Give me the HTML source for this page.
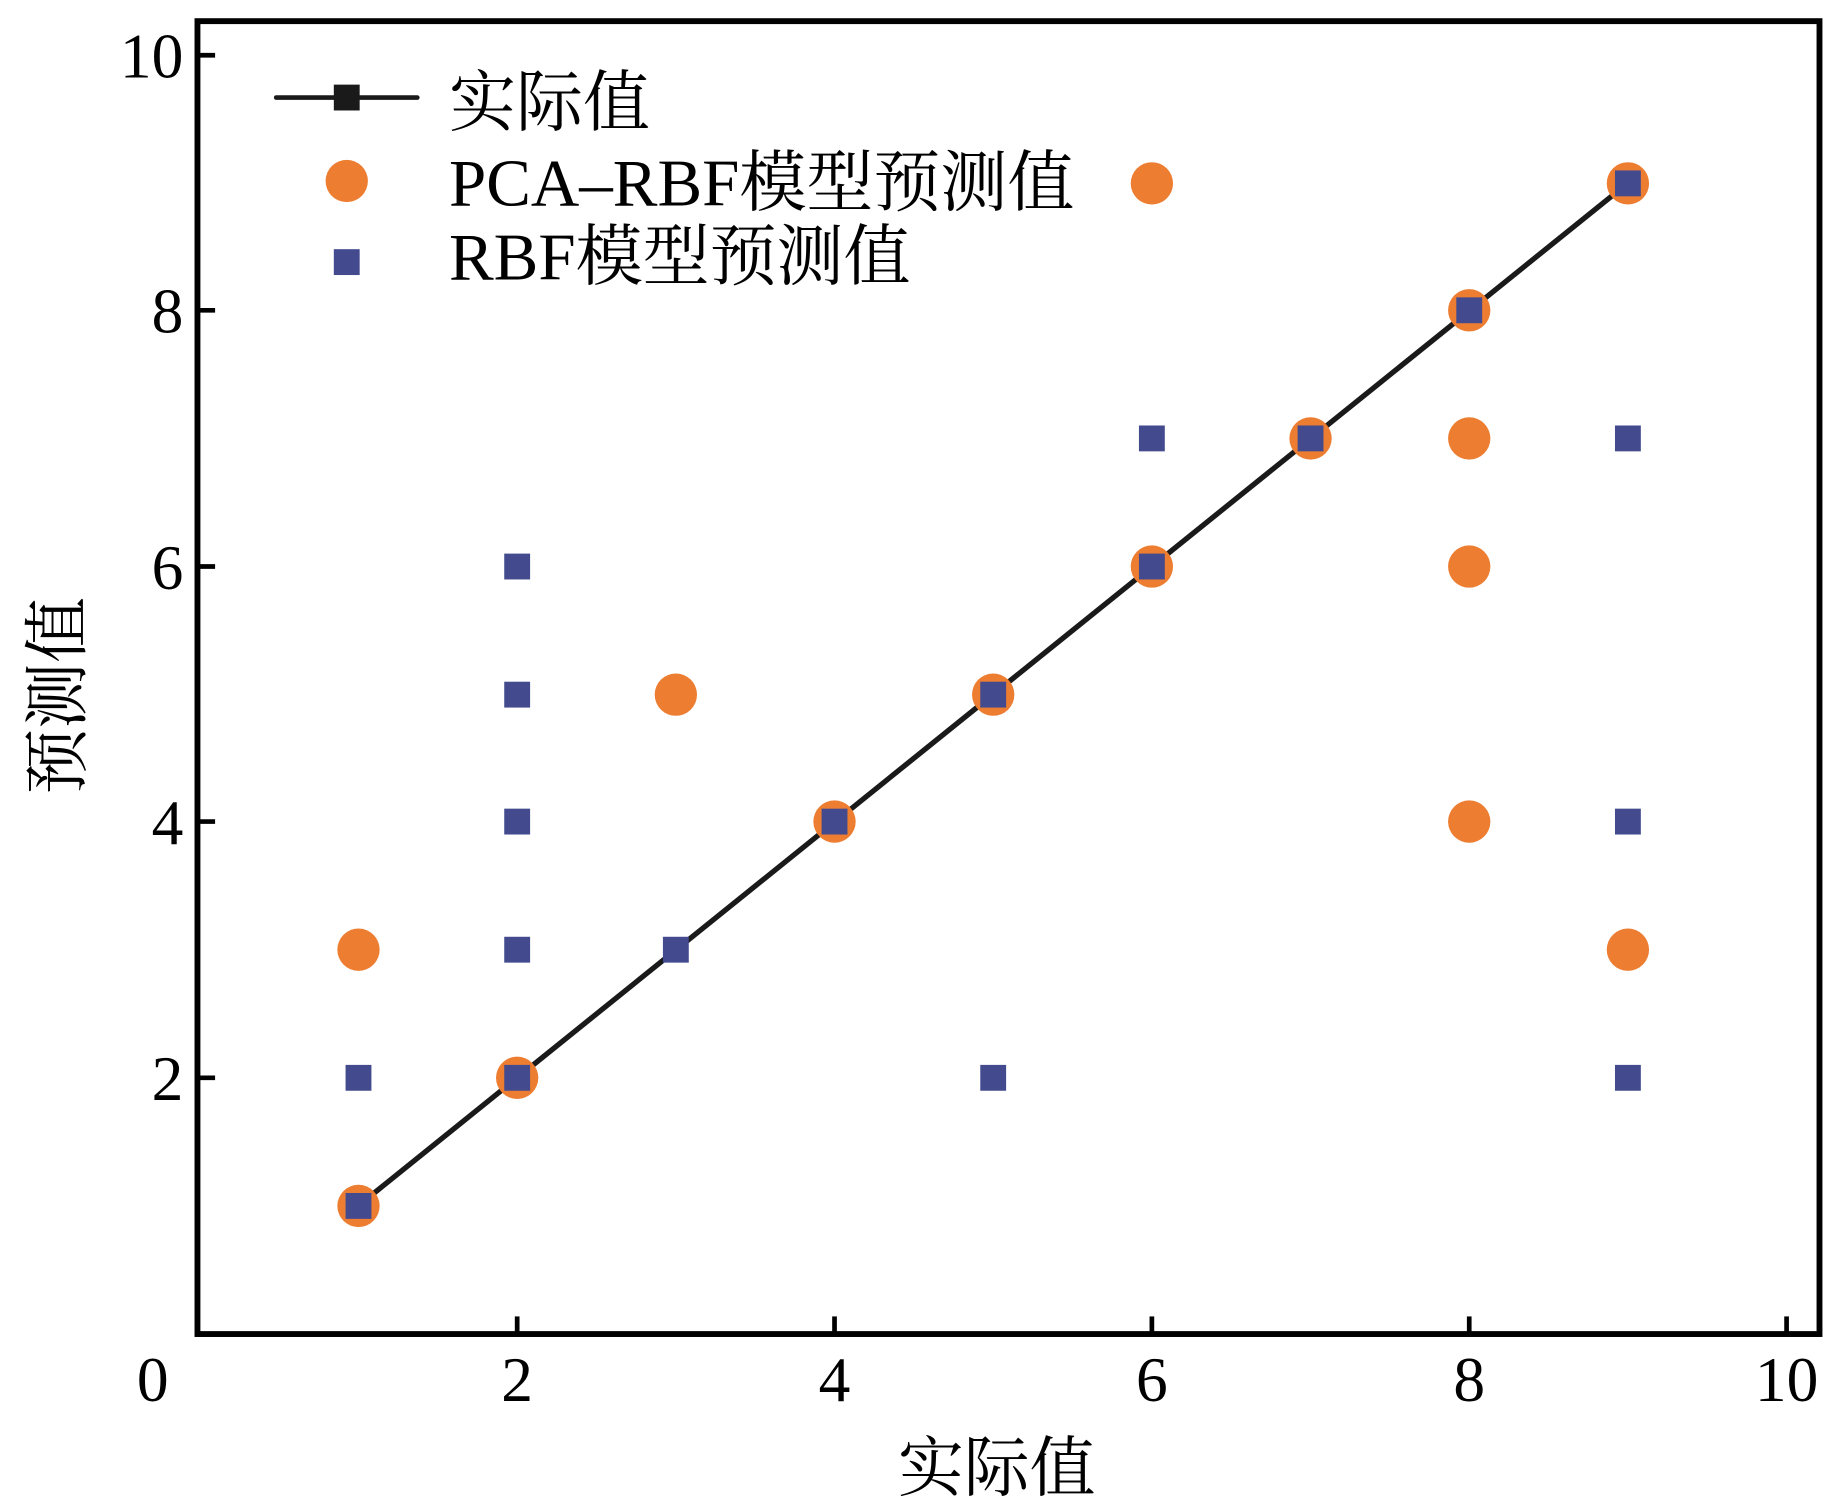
<!DOCTYPE html>
<html><head><meta charset="utf-8"><style>html,body{margin:0;padding:0;background:#fff}svg{display:block}</style></head>
<body>
<svg width="1843" height="1512" viewBox="0 0 1568 1286.4" preserveAspectRatio="none" xmlns="http://www.w3.org/2000/svg" font-family="'Liberation Serif','Noto Serif CJK SC',serif">
<rect x="0" y="0" width="1568" height="1287" fill="#fff"/>
<rect x="168" y="18" width="1380" height="1117" fill="none" stroke="#000" stroke-width="5"/>
<g stroke="#000" stroke-width="4">
<line x1="440" y1="1135" x2="440" y2="1120"/><line x1="710" y1="1135" x2="710" y2="1120"/>
<line x1="980" y1="1135" x2="980" y2="1120"/><line x1="1250" y1="1135" x2="1250" y2="1120"/>
<line x1="1520" y1="1135" x2="1520" y2="1120"/>
<line x1="168" y1="917" x2="183" y2="917"/><line x1="168" y1="699" x2="183" y2="699"/>
<line x1="168" y1="482" x2="183" y2="482"/><line x1="168" y1="264" x2="183" y2="264"/>
<line x1="168" y1="47" x2="183" y2="47"/>
</g>
<g font-size="54" fill="#000" text-anchor="middle">
<text x="130" y="1192">0</text><text x="440" y="1192">2</text><text x="710" y="1192">4</text>
<text x="980" y="1192">6</text><text x="1250" y="1192">8</text><text x="1520" y="1192">10</text>
</g>
<g font-size="54" fill="#000" text-anchor="end">
<text x="156" y="936">2</text><text x="156" y="718">4</text><text x="156" y="501">6</text>
<text x="156" y="283">8</text><text x="156" y="66">10</text>
</g>
<text x="848" y="1268" font-size="56" text-anchor="middle">实际值</text>
<text transform="translate(68,592) rotate(-90)" font-size="56" text-anchor="middle">预测值</text>
<line x1="305" y1="1025.75" x2="1385" y2="155.75" stroke="#1a1a1a" stroke-width="4.5"/>
<g fill="#ED7D31">
<circle cx="305" cy="1026" r="18"/><circle cx="305" cy="808" r="18"/><circle cx="440" cy="917" r="18"/>
<circle cx="575" cy="591" r="18"/><circle cx="710" cy="699" r="18"/><circle cx="845" cy="591" r="18"/>
<circle cx="980" cy="156" r="18"/><circle cx="980" cy="482" r="18"/><circle cx="1115" cy="373" r="18"/>
<circle cx="1250" cy="264" r="18"/><circle cx="1250" cy="373" r="18"/><circle cx="1250" cy="482" r="18"/>
<circle cx="1250" cy="699" r="18"/><circle cx="1385" cy="156" r="18"/><circle cx="1385" cy="808" r="18"/>
</g>
<g fill="#434A8E">
<rect x="294" y="1015" width="22" height="22"/><rect x="294" y="906" width="22" height="22"/>
<rect x="429" y="906" width="22" height="22"/><rect x="429" y="797" width="22" height="22"/>
<rect x="429" y="688" width="22" height="22"/><rect x="429" y="580" width="22" height="22"/>
<rect x="429" y="471" width="22" height="22"/><rect x="564" y="797" width="22" height="22"/>
<rect x="699" y="688" width="22" height="22"/><rect x="834" y="580" width="22" height="22"/>
<rect x="834" y="906" width="22" height="22"/><rect x="969" y="471" width="22" height="22"/>
<rect x="969" y="362" width="22" height="22"/><rect x="1104" y="362" width="22" height="22"/>
<rect x="1239" y="253" width="22" height="22"/><rect x="1374" y="145" width="22" height="22"/>
<rect x="1374" y="362" width="22" height="22"/><rect x="1374" y="688" width="22" height="22"/>
<rect x="1374" y="906" width="22" height="22"/>
</g>
<line x1="235" y1="83" x2="355" y2="83" stroke="#1a1a1a" stroke-width="4" stroke-linecap="round"/>
<rect x="284" y="72" width="22" height="22" fill="#1a1a1a"/>
<circle cx="295" cy="154" r="18" fill="#ED7D31"/>
<rect x="284" y="212" width="22" height="22" fill="#434A8E"/>
<g font-size="57" fill="#000">
<text x="382" y="107">实际值</text>
<text x="382" y="175">PCA–RBF模型预测值</text>
<text x="382" y="238">RBF模型预测值</text>
</g>
</svg>
</body></html>
